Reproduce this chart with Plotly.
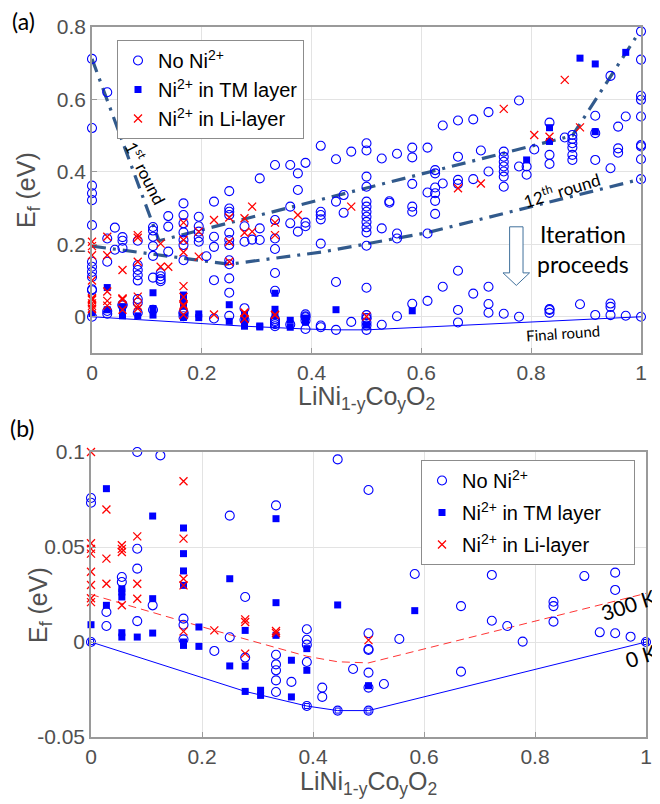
import plotly.graph_objects as go

W, H = 660, 804
OX, OY = 8, 8  # page body margin of the browser: shift layout so the picture lines up

# ---------------- data (composition y of LiNi1-yCoyO2, formation energy in eV) ----------------
# No Ni2+ (open circles)
no_cols = [0, 1/36, 1/24, 2/36, 3/36, 4/36, 1/8, 5/36, 6/36, 7/36, 5/24, 8/36, 9/36, 10/36, 7/24,
           11/36, 12/36, 13/36, 9/24, 14/36, 15/36, 16/36, 11/24, 17/36, 18/36, 19/36, 13/24, 20/36,
           21/36, 22/36, 15/24, 23/36, 24/36, 25/36, 17/24, 26/36, 27/36, 28/36, 19/24, 29/36, 30/36,
           31/36, 21/24, 32/36, 33/36, 34/36, 23/24, 35/36, 1.0]
no_vals = [
    [0.712, 0.521, 0.362, 0.341, 0.322, 0.253, 0.152, 0.138, 0.124, 0.11, 0.0758, 0.0733, 0.0],
    [0.62, 0.216, 0.152, 0.0158, 0.0084],
    [0.246, 0.185],
    [0.22, 0.21, 0.19, 0.0342, 0.0316],
    [0.21, 0.143, 0.129, 0.115, 0.1, 0.0491, 0.0386, 0.011],
    [0.248, 0.238, 0.221, 0.195, 0.168, 0.108, 0.0193],
    [0.12, 0.112, 0.104, 0.0982],
    [0.278, 0.249, 0.18],
    [0.313, 0.281, 0.258, 0.233, 0.212, 0.198, 0.156, 0.0123, 0.0091, 0.0014],
    [0.276, 0.25, 0.235, 0.219, 0.207],
    [0.167],
    [0.318, 0.221, 0.193, 0.101, -0.0047],
    [0.347, 0.299, 0.29, 0.281, 0.232, 0.212, 0.198, 0.156, 0.145, 0.106, 0.0665, 0.0025],
    [0.25, 0.207, 0.0237, -0.0082],
    [0.213],
    [0.382, 0.244, 0.212],
    [0.419, 0.267, 0.216, 0.187, 0.121, 0.0719, -0.0067, -0.0118, -0.0149, -0.0202, -0.0263],
    [0.419, 0.304, 0.258, -0.021],
    [0.396, 0.35, 0.235],
    [0.425, 0.26, 0.25, 0.0067, 0.0012, -0.0014, -0.0105, -0.0337],
    [0.472, 0.29, 0.281, 0.269, 0.202, -0.024, -0.0289],
    [0.435, 0.318, 0.0961, -0.0361],
    [0.336, 0.287],
    [0.456, -0.0142],
    [0.479, 0.459, 0.387, 0.359, 0.318, 0.304, 0.29, 0.276, 0.262, 0.247, 0.233, 0.196, 0.08,
     0.0046, -0.0037, -0.0042, -0.0161, -0.024, -0.0361],
    [0.437, 0.244, -0.0221],
    [0.319, 0.315],
    [0.45, 0.23, 0.216, 0.0016],
    [0.467, 0.44, 0.367, 0.304, 0.29, 0.0358],
    [0.467, 0.343, 0.23, 0.044],
    [0.405, 0.396, 0.357, 0.341, 0.32, 0.284],
    [0.528, 0.368, 0.083],
    [0.542, 0.442, 0.378, 0.367, 0.127, 0.0189, -0.0156],
    [0.545, 0.38, 0.064],
    [0.459],
    [0.565, 0.401, 0.083, 0.0353, 0.0112],
    [0.456, 0.442, 0.428, 0.415, 0.401, 0.387, 0.359, 0.0084],
    [0.597, 0.415, 0.0002],
    [0.415, 0.392],
    [0.462],
    [0.536, 0.447, 0.422, 0.0212, 0.0189, 0.0107],
    [0.495],
    [0.502, 0.491, 0.479, 0.467, 0.447, 0.433],
    [0.0347],
    [0.555, 0.507, 0.433, 0.0051],
    [0.665, 0.41, 0.0365, 0.0274, 0.0046],
    [0.525, 0.465, 0.453],
    [0.553, 0.0028],
    [0.788, 0.71, 0.61, 0.599, 0.553, 0.474, 0.47, 0.435, 0.38, 0.0],
]

# Ni2+ in TM layer (filled squares)
tm_cols = [0, 1/36, 2/36, 3/36, 4/36, 6/36, 7/36, 9/36, 10/36, 11/36, 12/36, 13/36, 14/36,
           16/36, 18/36, 21/36, 19/24, 30/36, 32/36, 33/36, 35/36]
tm_vals = [
    [0.0091],
    [0.0807, 0.0193],
    [0.028, 0.0263, 0.0237, 0.0049, 0.0026],
    [0.0026],
    [0.0663, 0.0228, 0.0047],
    [0.06, 0.0465, 0.0374, 0.0298, 0.0, -0.0018],
    [0.0079, -0.0023],
    [0.0333, -0.0126],
    [0.0061, -0.0126, -0.026],
    [-0.0254, -0.0281],
    [0.0649, 0.0207, 0.0035],
    [-0.0096, -0.0289],
    [-0.0035, -0.0149],
    [0.0195],
    [-0.023],
    [0.0165],
    [0.433],
    [0.522, 0.484],
    [0.714],
    [0.698, 0.511],
    [0.73],
]

# Ni2+ in Li layer (red crosses)
li_cols = [0, 1/36, 2/36, 3/36, 1/8, 5/36, 6/36, 7/36, 8/36, 9/36, 10/36, 7/24, 12/36, 9/24,
           17/36, 18/36, 24/36, 17/24, 27/36, 29/36, 30/36, 31/36, 32/36]
li_vals = [
    [0.207, 0.195, 0.17, 0.1, 0.052, 0.049, 0.0465, 0.037, 0.03, 0.023, 0.021],
    [0.221, 0.17, 0.0697, 0.0439, 0.0307],
    [0.129, 0.0509, 0.049, 0.0474, 0.0193],
    [0.2255, 0.218, 0.152, 0.0556, 0.0307, 0.0228],
    [0.202, 0.138],
    [0.138],
    [0.26, 0.212, 0.178, 0.0846, 0.0544, 0.0333, 0.0298, 0.0056],
    [0.235, 0.166],
    [0.267, 0.0061],
    [0.274, 0.207, 0.152],
    [0.272, 0.232, 0.0119, 0.0105, -0.0061],
    [0.304, 0.235],
    [0.26, 0.2255, 0.0058, 0.0047],
    [0.281],
    [0.304],
    [0.001],
    [0.355],
    [0.368],
    [0.574],
    [0.502],
    [0.497],
    [0.654],
    [0.523],
]

# convex hull (0 K / final round) and 300 K curve
hull_x = [0, 10/36, 14/36, 16/36, 18/36, 1.0]
hull_y = [0, -0.026, -0.0337, -0.0361, -0.0361, 0]
t300_x = [0, 8/36, 14/36, 16/36, 18/36, 1.0]
t300_y = [0.025, 0.0061, -0.0075, -0.0104, -0.011, 0.0256]

# hull estimates of earlier iteration rounds
r1_x = [0, 0.122, 0.875, 0.99]
r1_y = [0.712, 0.21, 0.50, 0.77]
r12_x = [0, 0.25, 0.42, 0.61, 1.0]
r12_y = [0.195, 0.145, 0.179, 0.232, 0.38]


def expand(cols, vals, lo=None, hi=None):
    xs, ys = [], []
    for c, v in zip(cols, vals):
        for e in v:
            if lo is not None and (e < lo - 1e-9 or e > hi + 1e-9):
                continue
            xs.append(c)
            ys.append(e)
    return xs, ys


def fx(px):
    return (px - OX) / W


def fy(py):
    return 1 - (py - OY) / H


BLUE = "rgb(0,0,255)"
RED = "rgb(255,0,0)"
DD = "rgb(50,90,140)"
GRAY = "#505050"
NAMES = ["No Ni<sup>2+</sup>", "Ni<sup>2+</sup> in TM layer", "Ni<sup>2+</sup> in Li-layer"]

fig = go.Figure()


def add_panel(xa, ya, legend, lo=None, hi=None, hull_markers=False, pad=""):
    fig.add_trace(go.Scatter(x=hull_x, y=hull_y, mode="lines+markers" if hull_markers else "lines",
                             line=dict(color=BLUE, width=1),
                             marker=dict(symbol="square-open", size=5, color=BLUE, line=dict(width=1)),
                             showlegend=False, xaxis=xa, yaxis=ya, cliponaxis=False))
    x, y = expand(no_cols, no_vals, lo, hi)
    fig.add_trace(go.Scatter(x=x, y=y, mode="markers", name=NAMES[0], legend=legend,
                             legendgroup=legend + "a",
                             marker=dict(symbol="circle-open", size=9, color=BLUE, line=dict(width=1.1)),
                             xaxis=xa, yaxis=ya, cliponaxis=False))
    x, y = expand(tm_cols, tm_vals, lo, hi)
    fig.add_trace(go.Scatter(x=x, y=y, mode="markers", name=NAMES[1] + pad, legend=legend,
                             legendgroup=legend + "b",
                             marker=dict(symbol="square", size=7, color=BLUE),
                             xaxis=xa, yaxis=ya, cliponaxis=False))
    x, y = expand(li_cols, li_vals, lo, hi)
    fig.add_trace(go.Scatter(x=x, y=y, mode="markers", name=NAMES[2], legend=legend,
                             legendgroup=legend + "c",
                             marker=dict(symbol="x-thin-open", size=8, color=RED,
                                         line=dict(width=1.3, color=RED)),
                             xaxis=xa, yaxis=ya, cliponaxis=False))


# panel (a) round lines
for rx, ry in [(r1_x, r1_y), (r12_x, r12_y)]:
    fig.add_trace(go.Scatter(x=rx, y=ry, mode="lines", showlegend=False,
                             line=dict(color=DD, width=3.2, dash="14px,7px,3px,7px"),
                             xaxis="x", yaxis="y"))
add_panel("x", "y", "legend")

# panel (b)
fig.add_trace(go.Scatter(x=t300_x, y=t300_y, mode="lines", showlegend=False,
                         line=dict(color=RED, width=0.8, dash="8px,5px"), xaxis="x2", yaxis="y2"))
add_panel("x2", "y2", "legend2", -0.05, 0.1, hull_markers=True, pad="&nbsp;" * 5)

xt = [0, 0.2, 0.4, 0.6, 0.8, 1.0]
xtt = ["0", "0.2", "0.4", "0.6", "0.8", "1"]
axis_common = dict(showgrid=True, gridcolor="#e3e3e3", gridwidth=1, showline=True, mirror=True,
                   linecolor="#9a9a9a", linewidth=1.5, ticks="inside", ticklen=5, tickcolor="#9a9a9a",
                   zeroline=False, automargin=False,
                   tickfont=dict(family="Liberation Sans", size=21, color=GRAY))

fig.update_layout(
    width=W, height=H, margin=dict(l=0, r=0, t=0, b=0, autoexpand=False),
    plot_bgcolor="white", paper_bgcolor="white",
    xaxis=dict(domain=[fx(92), fx(641)], anchor="y", range=[0, 1], tickvals=xt, ticktext=xtt, **axis_common),
    yaxis=dict(domain=[fy(353), fy(27)], anchor="x", range=[-0.1, 0.8],
               tickvals=[0, 0.2, 0.4, 0.6, 0.8], ticktext=["0", "0.2", "0.4", "0.6", "0.8"], **axis_common),
    xaxis2=dict(domain=[fx(91), fx(646)], anchor="y2", range=[0, 1], tickvals=xt, ticktext=xtt, **axis_common),
    yaxis2=dict(domain=[fy(737), fy(452)], anchor="x2", range=[-0.05, 0.1],
                tickvals=[-0.05, 0, 0.05, 0.1], ticktext=["-0.05", "0", "0.05", "0.1"], **axis_common),
    legend=dict(x=fx(117), y=fy(40), xanchor="left", yanchor="top", bgcolor="white",
                bordercolor="#8c8c8c", borderwidth=1, tracegroupgap=0,
                font=dict(family="Liberation Sans", size=20, color="black")),
    legend2=dict(x=fx(421), y=fy(460), xanchor="left", yanchor="top", bgcolor="white",
                 bordercolor="#8c8c8c", borderwidth=1, tracegroupgap=3,
                 font=dict(family="Liberation Sans", size=20, color="black")),
)

# hollow "iteration proceeds" arrow (panel a data coordinates)
fig.add_shape(type="path", xref="x", yref="y",
              path="M 0.7607,0.2484 L 0.7851,0.2484 L 0.7851,0.1212 L 0.797,0.1212 "
                   "L 0.7729,0.0866 L 0.7486,0.1212 L 0.7607,0.1212 Z",
              line=dict(color="#41719C", width=1), fillcolor="white")


def ann(text, px, py, size, color="black", angle=0, family="Lato", xanchor="center", yanchor="middle"):
    fig.add_annotation(text=text, x=fx(px), y=fy(py), xref="paper", yref="paper", showarrow=False,
                       textangle=angle, xanchor=xanchor, yanchor=yanchor, borderpad=0,
                       font=dict(family=family, size=size, color=color))


ann("(a)", 23, 21, 23)
ann("(b)", 22, 428, 23)
xtitle = "LiNi<sub>1-y</sub>Co<sub>y</sub>O<sub>2</sub>"
ytitle = "E<sub>f</sub> (eV)"
ann(xtitle, 366, 398, 25, GRAY, family="Liberation Sans")
ann(xtitle, 368, 783, 25, GRAY, family="Liberation Sans")
ann(ytitle, 28, 190, 25, GRAY, angle=-90, family="Liberation Sans")
ann(ytitle, 40, 605, 25, GRAY, angle=-90, family="Liberation Sans")
ann("1<sup>st</sup> round", 146, 173, 17, angle=63)
ann("12<sup>th</sup> round", 561, 189, 17, angle=-17)
ann("Iteration<br>proceeds", 536, 249, 23, xanchor="left")
ann("Final round", 563, 333, 15, angle=-4)
ann("300 K", 628, 604, 21, angle=-18)
ann("0 K", 641, 655, 21, angle=-18)

fig.write_html("out.html")
